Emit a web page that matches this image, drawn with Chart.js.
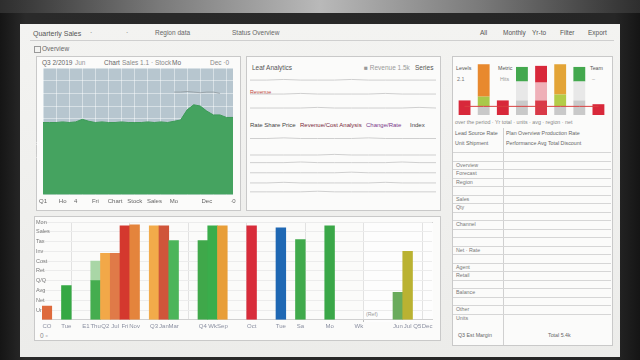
<!DOCTYPE html>
<html>
<head>
<meta charset="utf-8">
<script src="https://cdn.jsdelivr.net/npm/chart.js@4.4.1/dist/chart.umd.min.js"></script>
<style>
  body { margin: 0; width: 640px; height: 360px; overflow: hidden; position: relative;
         background: linear-gradient(to right, #151515, #2a2a2a 4%, #262626 96%, #151515);
         font-family: "Liberation Sans", "DejaVu Sans", sans-serif; color: #666; }
  .abs { position: absolute; }
  .glow { left: 0; top: 0; width: 640px; height: 13px;
          background: linear-gradient(to right, #2e2e2e, #7a7a7a 25%, #b9b9b9 50%, #7a7a7a 75%, #2e2e2e); }
  .screen { left: 20px; top: 24px; width: 600px; height: 333px;
            background: linear-gradient(#f3f3f1, #ececea); }
  .panel { border: 1px solid #c9c9c9; background: #fbfbfa; box-sizing: border-box; }
  .t { font-size: 6.5px; white-space: nowrap; line-height: 1; }
  .s { font-size: 5.3px; }
  canvas { position: absolute; }
  .row { position: absolute; left: 453px; width: 158px; border-top: 1px solid #d6d6d6; height: 0; }
</style>
</head>
<body>
<div class="abs glow"></div>
<div class="abs screen"></div>

<!-- header -->
<div class="abs t" style="left:33px;top:30px;color:#555;font-size:7px">Quarterly Sales</div>
<div class="abs t" style="left:90px;top:30px">·</div>
<div class="abs t" style="left:126px;top:30px">·</div>
<div class="abs t" style="left:155px;top:30px">Region data</div>
<div class="abs t" style="left:232px;top:30px">Status  Overview</div>
<div class="abs t" style="left:480px;top:30px;color:#555">All</div>
<div class="abs t" style="left:503px;top:30px;color:#555">Monthly</div>
<div class="abs t" style="left:532px;top:30px;color:#555">Yr-to</div>
<div class="abs t" style="left:560px;top:30px;color:#555">Filter</div>
<div class="abs t" style="left:588px;top:30px;color:#555">Export</div>
<div class="abs" style="left:30px;top:40px;width:584px;border-top:1px solid #cfcfcf"></div>
<div class="abs" style="left:34px;top:46px;width:5px;height:5px;border:1px solid #999"></div>
<div class="abs t" style="left:42px;top:46px">Overview</div>

<!-- panels -->
<div class="abs panel" style="left:36px;top:56px;width:205px;height:155px"></div>
<div class="abs panel" style="left:246px;top:56px;width:195px;height:155px"></div>
<div class="abs panel" style="left:452px;top:56px;width:161px;height:290px"></div>
<div class="abs panel" style="left:34px;top:216px;width:407px;height:125px"></div>

<!-- top-left panel texts -->
<div class="abs t" style="left:42px;top:60px">Q3 2/2019</div>
<div class="abs t" style="left:75px;top:60px;color:#999">Jun</div>
<div class="abs t" style="left:104px;top:60px">Chart</div>
<div class="abs t" style="left:122px;top:60px;color:#888">Sales 1.1 · Stock</div>
<div class="abs t" style="left:172px;top:60px">Mo</div>
<div class="abs t" style="left:210px;top:60px;color:#888">Dec ·0</div>

<!-- middle panel texts -->
<div class="abs t" style="left:252px;top:65px;color:#555">Leaf Analytics</div>
<div class="abs t" style="left:364px;top:65px;color:#999">■ Revenue  1.5k</div>
<div class="abs t" style="left:415px;top:65px;color:#555">Series</div>
<div class="abs t s" style="left:250px;top:122px;color:#444;font-size:6px">Rate Share Price</div>
<div class="abs t s" style="left:300px;top:122px;color:#7a2a3a;font-size:6px">Revenue/Cost Analysis</div>
<div class="abs t s" style="left:366px;top:122px;color:#7a3a8a;font-size:6px">Change/Rate</div>
<div class="abs t s" style="left:410px;top:122px;color:#444;font-size:6px">Index</div>
<div class="abs t s" style="left:250px;top:90px;color:#c0453a">Revenue</div>

<!-- right panel: mini chart legend texts -->
<div class="abs t s" style="left:456px;top:66px;color:#555">Levels</div>
<div class="abs t s" style="left:498px;top:66px;color:#555">Metric</div>
<div class="abs t s" style="left:590px;top:66px;color:#555">Team</div>
<div class="abs t s" style="left:457px;top:77px;color:#777">2.1</div>
<div class="abs t s" style="left:500px;top:77px;color:#999">Hits</div>
<div class="abs t s" style="left:592px;top:77px;color:#999">–</div>

<!-- right panel: table -->
<div class="abs t s" style="left:455px;top:120px;color:#888">over the period · Yr total · units · avg · region · net</div>
<div class="abs t s" style="left:455px;top:131px">Lead Source Rate</div>
<div class="abs t s" style="left:506px;top:131px">Plan Overview Production Rate</div>
<div class="abs t s" style="left:455px;top:141px">Unit Shipment</div>
<div class="abs t s" style="left:506px;top:141px">Performance Avg Total Discount</div>
<div class="abs" style="left:503px;top:128px;height:217px;border-left:1px solid #d0d0d0"></div>
<div id="rows"></div>
<div class="abs t s" style="left:458px;top:333px">Q3 Est Margin</div>
<div class="abs t s" style="left:548px;top:333px">Total 5.4k</div>

<!-- bottom sub-panel frame -->
<div class="abs" style="left:363px;top:222px;width:69px;height:99px;border-left:1px solid #bdbdbd;border-top:1px solid #d2d2d2;background:#fdfdfd"></div>
<div class="abs t s" style="left:366px;top:312px;color:#999">(Ref)</div>
<div class="abs t" style="left:40px;top:333px;color:#888">0 ▫</div>

<canvas id="areaChart" width="204" height="154" style="left:36px;top:56px"></canvas>
<canvas id="lineChart" width="194" height="154" style="left:246px;top:56px"></canvas>
<canvas id="miniChart" width="160" height="62" style="left:452px;top:56px"></canvas>
<canvas id="barChart" width="406" height="124" style="left:34px;top:216px"></canvas>

<script>
// ---- bottom bar chart ----
const barLabels = ['CO','','Tue','','E1','Thu','Q2','Jul','Fri','Nov','','Q3','Jan','Mar','','','Q4','Wk','Sep','','','Oct','','','Tue','','Sa','','','Mo','','','Wk','','','','Jun','Jul','Q5','Dec'];
const barBase = [14,null,35,null,null,40,68,68,96,97,null,96,96,81,null,null,81,96,96,null,null,96,null,null,94,null,82,null,null,96,null,null,null,null,null,null,28,70,null,null];
const barExtra = [null,null,null,null,null,20,null,null,null,null,null,null,null,null,null,null,null,null,null,null,null,null,null,null,null,null,null,null,null,null,null,null,null,null,null,null,null,null,null,null];
const barAxisNames = ['','Units','Net','Avg','Q/Q','Ret','Cost','Inv','Tax','Sales','Mon'];

// ---- top-left area chart ----
const areaLabels = ['Q1','','','Ho','','4','','','Fri','','','Chart','','','Stock','','','Sales','','','Mo','','','','','Dec','','','','·0'];
const areaValues = [57,57,57,57.5,57,57.5,59.5,58,57,57.5,57,57,57.5,57,57,57,57.5,57,57.5,57,58,59,67,71,70,66,63,63,61,61];
const refValues = [null,null,null,null,null,null,null,null,null,null,null,null,null,null,null,null,null,null,null,null,81,81,81.5,81,80.5,81,81,80,null,null];
const areaTicks = ['','8','0','11','TR','m','','','','',''];

// ---- middle line chart ----
const lineLabels = ['a','b','c','d','e','f','g','h','i','j','k','l'];
const lineSeries = [
  [96,96,96.5,96,96,96,96.5,96,96,96,96,96],
  [85,85,85,85.5,85,85,85,85,85.5,85,85,85],
  [74,74,74,74,74.5,74,74,74,74,74,74.5,74],
  [50,50,50.5,50,50,50,50,50.5,50,50,50,50],
  [37,37,37,37,37,37.5,37,37,37,37,37,37],
  [31,31,31,31.5,31,31,31,31,31,31.5,31,31],
  [23,23,23,23,23,23,23.5,23,23,23,23,23],
  [15,15,15.5,15,15,15,15,15,15.5,15,15,15],
  [8,8,8,8,8.5,8,8,8,8,8,8,8]
];

// ---- right mini stacked bars ----
const miniLabels = ['A','B','C','D','E','F','G','H'];
const miniLow = [27,16,27,27,27,16,27,20];
const miniMid = [null,18,null,35,33,22,35,null];
const miniTop = [null,60,null,27,31,56,27,null];
const miniTarget = [16,16,16,16,16,16,16,16];

const tableRows = ['','Overview','Forecast','Region','','Sales','Qty','','Channel','','','Net · Rate','','Agent','Retail','','Balance','','Other','Units'];

const areaBg = {
  id: 'areaBg',
  beforeDraw(chart, args, opts) {
    if (!opts.color) return;
    const { ctx, chartArea: a } = chart;
    ctx.save();
    ctx.fillStyle = opts.color;
    ctx.fillRect(a.left, a.top, a.width, a.height);
    ctx.restore();
  }
};

// table rows
const rowsEl = document.getElementById('rows');
tableRows.forEach((txt, i) => {
  const y = 152 + i * 8.5;
  const r = document.createElement('div');
  r.className = 'row';
  r.style.top = y + 'px';
  rowsEl.appendChild(r);
  if (txt) {
    const t = document.createElement('div');
    t.className = 'abs t s';
    t.style.left = '456px';
    t.style.top = (y + 2) + 'px';
    t.style.color = '#777';
    t.textContent = txt;
    rowsEl.appendChild(t);
  }
});

Chart.defaults.font.family = '"Liberation Sans", "DejaVu Sans", sans-serif';
Chart.defaults.animation = false;

const barColors = ['#de6a3c',null,'#35a844',null,null,'#45ad4f','#f2a848','#e07a48','#d4382e','#e4843c',null,'#f2ab4a','#d0553a','#4cb55a',null,null,'#3fa84a','#3aad4b','#e89e38',null,null,'#d82c3a',null,null,'#1f68b4',null,'#40aa4c',null,null,'#3aa748',null,null,null,null,null,null,'#6aab5c','#bab232',null,null];

new Chart(document.getElementById('barChart'), {
  type: 'bar',
  data: {
    labels: barLabels,
    datasets: [
      { data: barBase, backgroundColor: barColors, barPercentage: 1, categoryPercentage: 1, stack: 's' },
      { data: barExtra, backgroundColor: '#a9d6a6', barPercentage: 1, categoryPercentage: 1, stack: 's' }
    ]
  },
  options: {
    responsive: false,
    layout: { padding: { left: 8, right: 8, top: 6, bottom: 7 } },
    plugins: { legend: { display: false }, tooltip: { enabled: false } },
    scales: {
      x: {
        stacked: true,
        grid: { color: (c) => (c.index % 6 === 3 ? '#e2e2e2' : 'rgba(0,0,0,0)'), drawTicks: false },
        border: { color: '#d0d0d0' },
        ticks: { autoSkip: false, maxRotation: 0, padding: 3, font: { size: 6 }, color: '#8a8fa0' }
      },
      y: {
        stacked: true, min: 0, max: 100,
        grid: { color: '#ececec', drawTicks: false },
        border: { display: false },
        ticks: { stepSize: 10, mirror: true, padding: -2, font: { size: 5.5 }, color: '#777',
                 callback: (v) => barAxisNames[v / 10] || '' }
      }
    }
  }
});

new Chart(document.getElementById('areaChart'), {
  type: 'line',
  data: {
    labels: areaLabels,
    datasets: [
      { data: areaValues, borderColor: '#3d9a58', backgroundColor: '#45a360', fill: 'origin',
        borderWidth: 1, pointRadius: 0, tension: 0 },
      { data: refValues, borderColor: '#9aa4aa', borderWidth: 1, pointRadius: 0, fill: false }
    ]
  },
  plugins: [areaBg],
  options: {
    responsive: false,
    layout: { padding: { left: 6, right: 7, top: 12, bottom: 2 } },
    plugins: { legend: { display: false }, tooltip: { enabled: false }, areaBg: { color: '#b7c6cf' } },
    scales: {
      x: {
        grid: { color: (c) => (c.index % 2 === 0 ? 'rgba(255,255,255,0.45)' : 'rgba(0,0,0,0)'), drawTicks: false },
        border: { display: false },
        ticks: { autoSkip: false, maxRotation: 0, padding: 3, font: { size: 6 }, color: '#666' }
      },
      y: {
        min: 0, max: 100,
        grid: { color: 'rgba(255,255,255,0.45)', drawTicks: false },
        border: { display: false },
        ticks: { stepSize: 10, mirror: true, padding: -4, font: { size: 6 }, color: 'rgba(255,255,255,0.75)',
                 callback: (v) => areaTicks[v / 10] || '' }
      }
    }
  }
});

new Chart(document.getElementById('lineChart'), {
  type: 'line',
  data: {
    labels: lineLabels,
    datasets: lineSeries.map((s) => ({ data: s, borderColor: '#cfcfcf', borderWidth: 1, pointRadius: 0 }))
  },
  options: {
    responsive: false,
    layout: { padding: { left: 4, right: 4, top: 19, bottom: 8 } },
    plugins: { legend: { display: false }, tooltip: { enabled: false } },
    scales: {
      x: { display: false, offset: false },
      y: { display: false, min: 0, max: 100 }
    }
  }
});

new Chart(document.getElementById('miniChart'), {
  type: 'bar',
  data: {
    labels: miniLabels,
    datasets: [
      { type: 'line', data: miniTarget, borderColor: '#d94040', borderWidth: 1, pointRadius: 0, order: 0 },
      { data: miniLow, backgroundColor: ['#d8283a','#c9c9c9','#d8283a','#c9c9c9','#d93a48','#c9c9c9','#c9c9c9','#d8283a'], stack: 's', order: 1 },
      { data: miniMid, backgroundColor: ['#fff','#a9c94a','#fff','#e8e8e8','#efb0b8','#b3cc48','#e8e8e8','#fff'], stack: 's', order: 1 },
      { data: miniTop, backgroundColor: ['#fff','#e8892e','#fff','#43a84e','#d8283a','#e3a436','#43a84e','#fff'], stack: 's', order: 1 }
    ]
  },
  options: {
    responsive: false,
    barPercentage: 0.62, categoryPercentage: 1,
    layout: { padding: { left: 3, right: 4, top: 5, bottom: 3 } },
    plugins: { legend: { display: false }, tooltip: { enabled: false } },
    scales: {
      x: { display: false, stacked: true },
      y: { display: false, stacked: true, min: 0, max: 100 }
    }
  }
});
</script>
</body>
</html>
